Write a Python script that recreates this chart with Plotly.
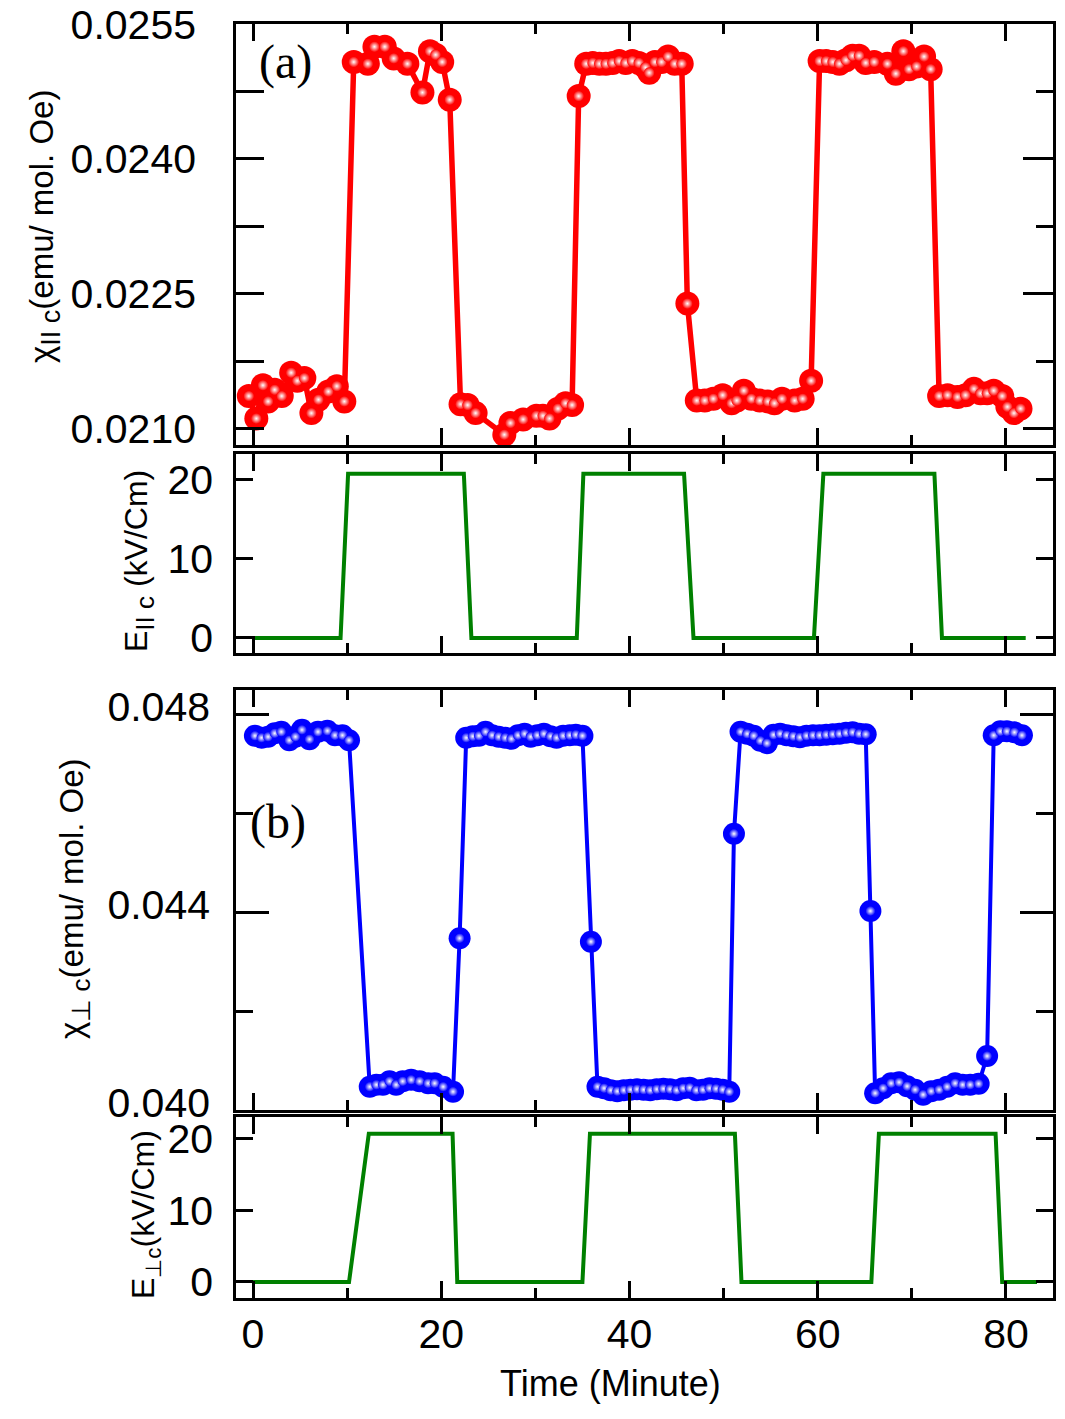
import plotly.graph_objects as go

# ---------------- data ----------------
# Panel (a): chi parallel c vs time
t_par = [-0.45, 0.35, 1.05, 1.6, 2.3, 3.05, 4.05, 4.7, 5.45, 6.2, 6.95, 8.0, 8.9, 9.7,
         10.7, 12.2, 12.9, 14.0, 14.95, 16.4, 18.0, 18.8, 19.4, 20.1, 20.9,
         22.05, 22.8, 23.65, 26.7, 27.35, 28.7, 30.1, 30.8, 31.5, 32.4, 33.2, 33.9,
         34.6, 35.4, 36.1, 36.8, 37.5, 38.2, 38.9, 39.6, 40.3, 41.0, 41.7, 42.1, 42.7,
         43.4, 44.1, 44.8, 45.55,
         46.15,
         47.15, 48.0, 48.9, 49.9, 50.85, 51.4, 52.15, 52.95, 53.85, 54.7, 55.4, 56.2,
         57.55, 58.4, 59.3,
         60.2, 60.9, 61.6, 62.3, 63.0, 63.7, 64.4, 65.1, 66.0, 67.4, 68.3, 69.1, 69.7,
         70.5, 71.3, 72.0,
         72.9, 73.8, 74.85, 75.7, 76.6, 77.3, 78.0, 78.7, 79.6, 80.15, 80.85, 81.55]
chi_par = [0.02136, 0.02111, 0.02148, 0.02130, 0.02143, 0.02136, 0.02162, 0.02153, 0.02156,
           0.02117, 0.02132, 0.02141, 0.02147, 0.02130,
           0.02508, 0.02506, 0.02525, 0.02525, 0.02512, 0.02506, 0.02474, 0.02520, 0.02516,
           0.02508, 0.02466,
           0.02127, 0.02126, 0.02117, 0.02093, 0.02106, 0.02110, 0.02114, 0.02114, 0.02111,
           0.02122, 0.02128, 0.02126,
           0.02470, 0.02506, 0.02507, 0.02506, 0.02506, 0.02507, 0.02509, 0.02507, 0.02509,
           0.02507, 0.02502, 0.02496, 0.02508, 0.02508, 0.02514, 0.02506, 0.02506,
           0.02239,
           0.02131, 0.02131, 0.02133, 0.02137, 0.02128, 0.02131, 0.02142, 0.02133, 0.02131,
           0.02130, 0.02128, 0.02133, 0.02131, 0.02133, 0.02153,
           0.02509, 0.02509, 0.02508, 0.02506, 0.02510, 0.02515, 0.02515, 0.02507, 0.02508,
           0.02506, 0.02495, 0.02520, 0.02500, 0.02503, 0.02514, 0.02500,
           0.02136, 0.02137, 0.02135, 0.02137, 0.02144, 0.02139, 0.02139, 0.02142, 0.02136,
           0.02124, 0.02117, 0.02122]

# Panel (a): applied field E parallel c
tE_par = [0, 9.3, 10.1, 22.4, 23.2, 34.4, 35.1, 45.8, 46.8, 59.6, 60.6, 72.4, 73.2, 82.1]
E_par = [0, 0, 20.7, 20.7, 0, 0, 20.7, 20.7, 0, 0, 20.7, 20.7, 0, 0]

# Panel (b): chi perpendicular c vs time
t_perp = [0.2, 0.9, 1.6, 2.3, 3.0, 3.85, 4.5, 5.2, 6.0, 6.9, 7.9, 8.7, 9.5, 10.2,
          12.4, 13.1, 13.8, 14.5, 15.2, 15.9, 16.8, 17.7, 18.6, 19.3, 20.2, 21.25,
          21.95,
          22.65, 23.35, 24.0, 24.7, 25.4, 26.1, 26.8, 27.45, 28.15, 28.85, 29.5, 30.2,
          30.9, 31.6, 32.25, 32.95, 33.65, 34.3, 35.0,
          35.9,
          36.6, 37.3, 38.0, 38.7, 39.4, 40.1, 40.8, 41.5, 42.2, 42.9, 43.6, 44.3, 45.0,
          45.7, 46.4, 47.1, 47.8, 48.5, 49.2, 49.9, 50.6,
          51.1,
          51.8, 52.5, 53.2, 53.9, 54.6, 55.3, 56.0, 56.7, 57.4, 58.1, 58.8, 59.5, 60.2,
          60.9, 61.6, 62.3, 63.0, 63.7, 64.4, 65.1,
          65.6,
          66.1, 66.95, 67.8, 68.65, 69.5, 70.35, 71.2, 72.05, 72.9, 73.75, 74.6, 75.4,
          76.2, 77.1,
          78.0,
          78.7, 79.4, 80.1, 80.9, 81.7]
chi_perp = [0.04756, 0.04752, 0.04754, 0.04761, 0.04764, 0.04747, 0.04754, 0.04768, 0.04749,
            0.04764, 0.04766, 0.04757, 0.04757, 0.04747,
            0.04047, 0.04051, 0.04051, 0.04058, 0.04051, 0.04058, 0.04061, 0.04058, 0.04054,
            0.04054, 0.04047, 0.04037,
            0.04347,
            0.04752, 0.04755, 0.04756, 0.04764, 0.04757, 0.04754, 0.04752, 0.04750, 0.04757,
            0.04760, 0.04754, 0.04757, 0.04760, 0.04755, 0.04752, 0.04756, 0.04757, 0.04758,
            0.04756,
            0.04340,
            0.04047, 0.04044, 0.04040, 0.04038, 0.04040, 0.04041, 0.04042, 0.04041, 0.04040,
            0.04042, 0.04043, 0.04042, 0.04040, 0.04044, 0.04045, 0.04040, 0.04041, 0.04044,
            0.04043, 0.04041, 0.04037,
            0.04558,
            0.04764, 0.04760, 0.04756, 0.04746, 0.04741, 0.04758, 0.04760, 0.04757, 0.04755,
            0.04753, 0.04756, 0.04757, 0.04757, 0.04758, 0.04759, 0.04760, 0.04762, 0.04763,
            0.04760, 0.04759,
            0.04402,
            0.04034, 0.04044, 0.04054, 0.04056, 0.04048, 0.04041, 0.04031, 0.04038, 0.04041,
            0.04047, 0.04054, 0.04051, 0.04051, 0.04053,
            0.04109,
            0.04757, 0.04765, 0.04765, 0.04763, 0.04757]

# Panel (b): applied field E perpendicular c
tE_perp = [0, 10.2, 12.3, 21.2, 21.7, 35.0, 35.8, 51.2, 51.9, 65.7, 66.5, 78.9, 79.6, 83.3]
E_perp = [0, 0, 20.7, 20.7, 0, 0, 20.7, 20.7, 0, 0, 20.7, 20.7, 0, 0]

# tick labels
chi_par_ticks = [0.0210, 0.02175, 0.0225, 0.02325, 0.0240, 0.02475, 0.0255]
chi_par_labels = ["0.0210", "", "0.0225", "", "0.0240", "", "0.0255"]
time_ticks = [0, 20, 40, 60, 80]

# ---------------- figure ----------------
W, H = 1065, 1419
RED, BLUE, GREEN = "#ff0000", "#0000ff", "#008000"
SANS = "Liberation Sans, Arial, Helvetica, sans-serif"
SERIF = "Liberation Serif, Times New Roman, serif"
LW = 2.6
TFS = 41  # tick label font size

def py(px):
    return 1 - px / H

XDOM = [236 / W, 1053 / W]
XRANGE = [-1.81, 85.0]

fig = go.Figure()

def balls(x, y, color, size, lw, xa, ya):
    fig.add_trace(go.Scatter(x=x, y=y, mode="lines+markers", xaxis=xa, yaxis=ya,
                             line=dict(color=color, width=lw),
                             marker=dict(color=color, size=size, line=dict(width=0)),
                             showlegend=False, hoverinfo="skip"))
    fig.add_trace(go.Scatter(x=x, y=y, mode="markers", xaxis=xa, yaxis=ya,
                             marker=dict(color=color, size=size * 0.45, line=dict(width=0),
                                         gradient=dict(type="radial", color="white")),
                             showlegend=False, hoverinfo="skip"))

balls(t_par, chi_par, RED, 24, 5.5, "x4", "y4")
fig.add_trace(go.Scatter(x=tE_par, y=E_par, mode="lines", xaxis="x3", yaxis="y3",
                         line=dict(color=GREEN, width=4), showlegend=False))
balls(t_perp, chi_perp, BLUE, 22, 4, "x2", "y2")
fig.add_trace(go.Scatter(x=tE_perp, y=E_perp, mode="lines", xaxis="x", yaxis="y",
                         line=dict(color=GREEN, width=4), showlegend=False))

def xaxis(anchor, labels):
    return dict(domain=XDOM, range=XRANGE, anchor=anchor, showline=True, linecolor="black",
                linewidth=LW, mirror="ticks", ticks="inside", ticklen=17, tickwidth=LW,
                tickcolor="black", tickvals=time_ticks, showticklabels=labels,
                tickfont=dict(family=SANS, size=TFS, color="black"),
                ticklabelstandoff=-2, automargin=False,
                minor=dict(dtick=10, tick0=0, ticks="inside", ticklen=10, tickwidth=LW,
                           tickcolor="black"),
                showgrid=False, zeroline=False)

layout = dict(
    width=W, height=H, margin=dict(l=0, r=0, t=0, b=0, autoexpand=False),
    paper_bgcolor="white", plot_bgcolor="white", showlegend=False,
    # bottom E panel (b)
    xaxis=xaxis("y", True),
    yaxis=dict(domain=[py(1298), py(1117)], range=[-2.24, 23.04], anchor="x",
               showline=True, linecolor="black", linewidth=LW, mirror="ticks",
               ticks="inside", ticklen=17, tickwidth=LW, tickcolor="black",
               tickvals=[0, 10, 20], tickfont=dict(family=SANS, size=TFS, color="black"),
               ticklabelstandoff=12, automargin=False, showgrid=False, zeroline=False),
    # chi perp panel (b)
    xaxis2=xaxis("y2", False),
    yaxis2=dict(domain=[py(1110), py(690)], range=[0.0400, 0.048485], anchor="x2",
                showline=True, linecolor="black", linewidth=LW, mirror="ticks",
                ticks="inside", ticklen=33, tickwidth=LW, tickcolor="black",
                tick0=0.040, dtick=0.004, tickformat=".3f",
                tickfont=dict(family=SANS, size=TFS, color="black"),
                ticklabelstandoff=15, ticklabelshift=-7, automargin=False,
                minor=dict(dtick=0.002, tick0=0.040, ticks="inside", ticklen=17,
                           tickwidth=LW, tickcolor="black"),
                showgrid=False, zeroline=False),
    # E panel (a)
    xaxis3=xaxis("y3", False),
    yaxis3=dict(domain=[py(653), py(454)], range=[-1.9, 23.2], anchor="x3",
                showline=True, linecolor="black", linewidth=LW, mirror="ticks",
                ticks="inside", ticklen=17, tickwidth=LW, tickcolor="black",
                tickvals=[0, 10, 20], tickfont=dict(family=SANS, size=TFS, color="black"),
                ticklabelstandoff=12, automargin=False, showgrid=False, zeroline=False),
    # chi parallel panel (a)
    xaxis4=xaxis("y4", False),
    yaxis4=dict(domain=[py(445), py(24)], range=[0.020815, 0.025503], anchor="x4",
                showline=True, linecolor="black", linewidth=LW, mirror=True,
                ticks="inside", ticklen=28, tickwidth=LW, tickcolor="black",
                tickvals=chi_par_ticks, ticktext=chi_par_labels,
                tickfont=dict(family=SANS, size=TFS, color="black"),
                ticklabelstandoff=29, automargin=False, showgrid=False, zeroline=False),
    # right-hand ticks of panel (a)
    yaxis5=dict(overlaying="y4", side="right", anchor="x4", range=[0.020815, 0.025503],
                showline=False, ticks="inside", ticklen=30, tickwidth=LW, tickcolor="black",
                tickvals=chi_par_ticks[::2], showticklabels=False, automargin=False,
                minor=dict(tickvals=chi_par_ticks[1::2], ticks="inside", ticklen=17,
                           tickwidth=LW, tickcolor="black"),
                showgrid=False, zeroline=False),
)
fig.update_layout(**layout)
# empty trace so the overlay axis is drawn
fig.add_trace(go.Scatter(x=[None], y=[None], xaxis="x4", yaxis="y5", showlegend=False))

ann = []
def vtitle(text, xpx, ypx, size):
    ann.append(dict(text=text, x=xpx / W, y=py(ypx), xref="paper", yref="paper",
                    textangle=-90, showarrow=False, xanchor="center", yanchor="middle",
                    font=dict(family=SANS, size=size, color="black")))

vtitle("χ<sub><span style='font-size:27px'>II c</span></sub>(emu/ mol. Oe)", 45, 227, 33)
vtitle("E<sub><span style='font-size:26px'>II c</span></sub> (kV/Cm)", 139, 561, 32)
vtitle("χ<sub><span style='font-size:26px'>⊥ c</span></sub>(emu/ mol. Oe)", 74, 899, 33)
vtitle("E<sub>⊥c</sub>(kV/Cm)", 145, 1215, 32)

ann.append(dict(text="Time (Minute)", x=610 / W, y=py(1383), xref="paper", yref="paper",
                showarrow=False, xanchor="center", yanchor="middle",
                font=dict(family=SANS, size=36, color="black")))
ann.append(dict(text="(a)", x=285 / W, y=py(62), xref="paper", yref="paper",
                showarrow=False, xanchor="center", yanchor="middle",
                font=dict(family=SERIF, size=48, color="black")))
ann.append(dict(text="(b)", x=278 / W, y=py(822), xref="paper", yref="paper",
                showarrow=False, xanchor="center", yanchor="middle",
                font=dict(family=SERIF, size=48, color="black")))
fig.update_layout(annotations=ann)

fig.write_html("out.html")
